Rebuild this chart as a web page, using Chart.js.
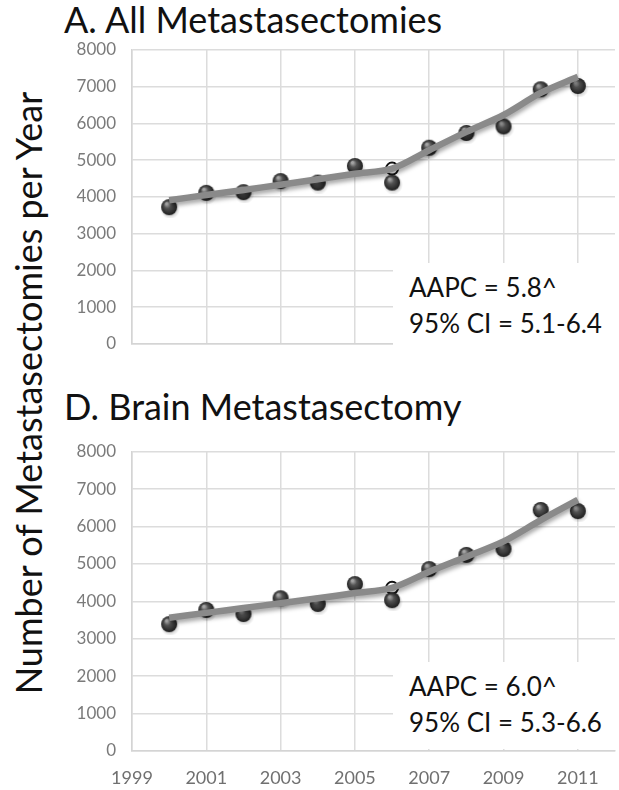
<!DOCTYPE html>
<html>
<head>
<meta charset="utf-8">
<script src="https://cdn.jsdelivr.net/npm/chart.js@4/dist/chart.umd.min.js"></script>
<style>
  html, body { margin: 0; padding: 0; background: #fff; overflow: hidden; }
  body { width: 619px; height: 790px; position: relative; font-family: Lato, "Open Sans", sans-serif; color: #111; }
  .panel { position: absolute; left: 0; width: 625px; }
  .title { position: absolute; left: 64px; font-size: 36px; line-height: 1; white-space: nowrap; }
  .ytitle { position: absolute; left: 28px; top: 393px; font-size: 36px; line-height: 1; white-space: nowrap;
            transform: translate(-50%, -50%) rotate(-90deg); }
  .note { position: absolute; left: 393px; width: 226px; height: 87px; background: #fff;
          font-size: 26px; line-height: 36px; padding-left: 16px; box-sizing: border-box; padding-top: 6px; }
</style>
</head>
<body>
<div class="title" style="top:1px">A. All Metastasectomies</div>
<div class="title" style="top:388px">D. Brain Metastasectomy</div>
<div class="ytitle">Number of Metastasectomies per Year</div>

<div class="panel" style="top:0;height:370px"><canvas id="chartA"></canvas></div>
<div class="panel" style="top:380px;height:410px"><canvas id="chartD"></canvas></div>

<div class="note" style="top:263px">AAPC = 5.8^<br>95% CI = 5.1-6.4</div>
<div class="note" style="top:662px">AAPC = 6.0^<br>95% CI = 5.3-6.6</div>

<script>
// data
const years = [2000, 2001, 2002, 2003, 2004, 2005, 2006, 2007, 2008, 2009, 2010, 2011];
const xTicks = [1999, 2001, 2003, 2005, 2007, 2009, 2011];
const yTicks = [0, 1000, 2000, 3000, 4000, 5000, 6000, 7000, 8000];

const allObserved = [3720, 4110, 4130, 4430, 4390, 4840, 4390, 5340, 5740, 5920, 6930, 7020];
const allTrend    = [3910, 4050, 4190, 4330, 4480, 4630, 4770, 5270, 5770, 6230, 6830, 7270];
const allJoin     = [2006, 4770];

const brainObserved = [3390, 3770, 3660, 4080, 3930, 4460, 4030, 4860, 5240, 5400, 6440, 6410];
const brainTrend    = [3560, 3690, 3820, 3950, 4080, 4220, 4360, 4790, 5190, 5600, 6170, 6710];
const brainJoin     = [2006, 4360];

Chart.defaults.font.family = 'Lato, "Open Sans", sans-serif';

// shaded sphere used as point marker
function makeSphere() {
    const c = document.createElement('canvas');
    c.width = 22; c.height = 22;
    const g = c.getContext('2d');
    const sh = g.createRadialGradient(12, 13, 2, 12, 13, 10);
    sh.addColorStop(0, 'rgba(0,0,0,0.35)');
    sh.addColorStop(1, 'rgba(0,0,0,0)');
    g.fillStyle = sh;
    g.beginPath(); g.arc(12, 13, 10, 0, Math.PI * 2); g.fill();
    const gr = g.createRadialGradient(8.5, 7.5, 1, 11, 11, 8.2);
    gr.addColorStop(0, '#a4a4a4');
    gr.addColorStop(0.35, '#535353');
    gr.addColorStop(1, '#1c1c1c');
    g.fillStyle = gr;
    g.beginPath(); g.arc(11, 11, 8, 0, Math.PI * 2); g.fill();
    return c;
}
const sphere = makeSphere();

const lineShadow = {
    id: 'lineShadow',
    beforeDatasetDraw(chart, args) {
        if (args.index !== 0) return;
        const ctx = chart.ctx;
        ctx.save();
        ctx.shadowColor = 'rgba(0,0,0,0.35)';
        ctx.shadowBlur = 4;
        ctx.shadowOffsetX = 1;
        ctx.shadowOffsetY = 3;
    },
    afterDatasetDraw(chart, args) {
        if (args.index !== 0) return;
        chart.ctx.restore();
    }
};

function makeChart(id, observed, trend, join, showX, xAxisH, padTop) {
    const ctx = document.getElementById(id).getContext('2d');
    return new Chart(ctx, {
        type: 'scatter',
        data: {
            datasets: [
                {
                    data: years.map((y, i) => ({ x: y, y: trend[i] })),
                    showLine: true,
                    borderColor: '#8a8a8a',
                    borderWidth: 6.5,
                    pointRadius: 0,
                    tension: 0.3
                },
                {
                    data: years.map((y, i) => ({ x: y, y: observed[i] })),
                    pointStyle: sphere,
                    pointRadius: 9
                },
                {
                    data: [{ x: join[0], y: join[1] }],
                    pointStyle: 'circle',
                    pointRadius: 6,
                    pointBackgroundColor: '#fff',
                    pointBorderColor: '#111',
                    pointBorderWidth: 2
                }
            ]
        },
        options: {
            responsive: true,
            maintainAspectRatio: false,
            animation: false,
            layout: { padding: { top: padTop, right: 2, left: 0, bottom: 0 } },
            plugins: { legend: { display: false }, tooltip: { enabled: false } },
            scales: {
                x: {
                    type: 'linear', min: 1999, max: 2012,
                    afterBuildTicks: s => { s.ticks = xTicks.map(v => ({ value: v })); },
                    afterFit: s => { s.height = xAxisH; },
                    grid: { color: '#dcdcdc', lineWidth: 1.5, drawTicks: false },
                    border: { color: '#d4d4d4', width: 1.5 },
                    ticks: { display: showX, color: '#707070', font: { size: 18 }, padding: 16, maxRotation: 0,
                             callback: v => String(v) }
                },
                y: {
                    min: 0, max: 8000,
                    afterBuildTicks: s => { s.ticks = yTicks.map(v => ({ value: v })); },
                    afterFit: s => { s.width = 132; },
                    grid: { color: '#dcdcdc', lineWidth: 1.5, drawTicks: false },
                    border: { color: '#d4d4d4', width: 1.5 },
                    ticks: { color: '#7a7a7a', font: { size: 17 }, padding: 16, callback: v => String(v) }
                }
            }
        },
        plugins: [lineShadow]
    });
}

makeChart('chartA', allObserved, allTrend, allJoin, false, 18, 50);
makeChart('chartD', brainObserved, brainTrend, brainJoin, true, 39, 71.6);
</script>
</body>
</html>
